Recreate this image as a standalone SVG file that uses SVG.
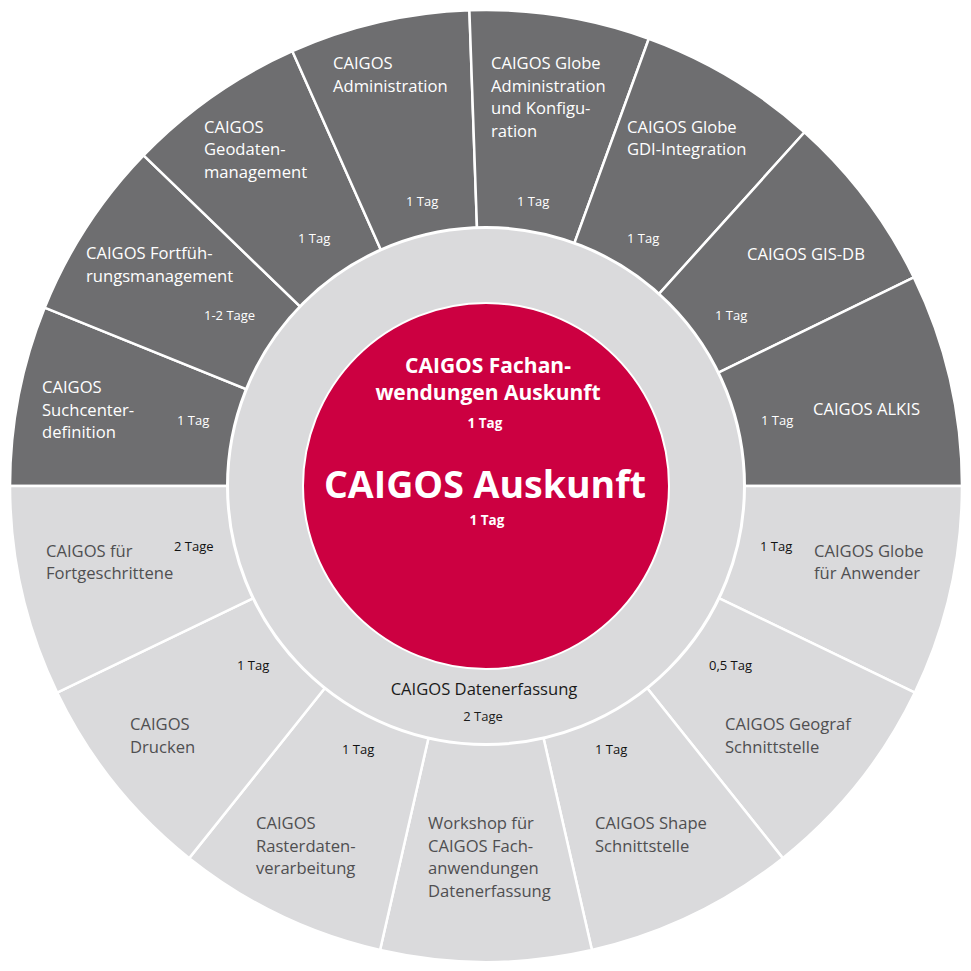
<svg xmlns="http://www.w3.org/2000/svg" width="971" height="971" viewBox="0 0 971 971">
<style>
.dk{fill:#6e6e70;stroke:#fff;stroke-width:2.5;stroke-linejoin:round}
.lt{fill:#dadadc;stroke:#fff;stroke-width:2.5;stroke-linejoin:round}
text{font-family:"Open Sans","Noto Sans",sans-serif}
.wl{fill:#fff;font-size:16.6px}
.gl{fill:#4f4f51;font-size:16.6px}
.wd{fill:#fff;font-size:13px}
.bd{fill:#111;font-size:13px}
.cb{fill:#fff;font-weight:bold;text-anchor:middle}
</style>
<rect width="971" height="971" fill="#fff"/>
<g id="suchcenter">
<path class="dk" d="M486 486 L10 486 A476 476 0 0 1 44.66 307.69 Z"/>
<text class="wl"><tspan x="42" y="393">CAIGOS</tspan><tspan x="42" y="416">Suchcenter-</tspan><tspan x="42" y="438">definition</tspan></text>
<text class="wd" x="177" y="425">1 Tag</text>
</g>
<g id="fortfuehrung">
<path class="dk" d="M486 486 L44.66 307.69 A476 476 0 0 1 143.59 155.34 Z"/>
<text class="wl"><tspan x="86" y="259">CAIGOS Fortfüh-</tspan><tspan x="86" y="282">rungsmanagement</tspan></text>
<text class="wd" x="204" y="320">1-2 Tage</text>
</g>
<g id="geodaten">
<path class="dk" d="M486 486 L143.59 155.34 A476 476 0 0 1 292.39 51.15 Z"/>
<text class="wl"><tspan x="204" y="133">CAIGOS</tspan><tspan x="204" y="155">Geodaten-</tspan><tspan x="204" y="178">management</tspan></text>
<text class="wd" x="298" y="243">1 Tag</text>
</g>
<g id="administration">
<path class="dk" d="M486 486 L292.39 51.15 A476 476 0 0 1 469.39 10.29 Z"/>
<text class="wl"><tspan x="333" y="69">CAIGOS</tspan><tspan x="333" y="92">Administration</tspan></text>
<text class="wd" x="406" y="206">1 Tag</text>
</g>
<g id="globe-admin">
<path class="dk" d="M486 486 L469.39 10.29 A476 476 0 0 1 648.80 38.71 Z"/>
<text class="wl"><tspan x="491" y="69">CAIGOS Globe</tspan><tspan x="491" y="92">Administration</tspan><tspan x="491" y="114">und Konfigu-</tspan><tspan x="491" y="137">ration</tspan></text>
<text class="wd" x="517" y="206">1 Tag</text>
</g>
<g id="globe-gdi">
<path class="dk" d="M486 486 L648.80 38.71 A476 476 0 0 1 804.51 132.27 Z"/>
<text class="wl"><tspan x="627" y="133">CAIGOS Globe</tspan><tspan x="627" y="155">GDI-Integration</tspan></text>
<text class="wd" x="627" y="243">1 Tag</text>
</g>
<g id="gis-db">
<path class="dk" d="M486 486 L804.51 132.27 A476 476 0 0 1 913.82 277.33 Z"/>
<text class="wl" x="747" y="260">CAIGOS GIS-DB</text>
<text class="wd" x="715" y="320">1 Tag</text>
</g>
<g id="alkis">
<path class="dk" d="M486 486 L913.82 277.33 A476 476 0 0 1 962 486 Z"/>
<text class="wl" x="813" y="415">CAIGOS ALKIS</text>
<text class="wd" x="761" y="425">1 Tag</text>
</g>
<g id="globe-anwender">
<path class="lt" d="M486 486 L962 486 A476 476 0 0 1 914.86 692.53 Z"/>
<text class="gl"><tspan x="814" y="557">CAIGOS Globe</tspan><tspan x="814" y="579">für Anwender</tspan></text>
<text class="bd" x="760" y="551">1 Tag</text>
</g>
<g id="geograf">
<path class="lt" d="M486 486 L914.86 692.53 A476 476 0 0 1 782.78 858.15 Z"/>
<text class="gl"><tspan x="725" y="730">CAIGOS Geograf</tspan><tspan x="725" y="753">Schnittstelle</tspan></text>
<text class="bd" x="709" y="670">0,5 Tag</text>
</g>
<g id="shape">
<path class="lt" d="M486 486 L782.78 858.15 A476 476 0 0 1 591.92 950.07 Z"/>
<text class="gl"><tspan x="595" y="829">CAIGOS Shape</tspan><tspan x="595" y="852">Schnittstelle</tspan></text>
<text class="bd" x="595" y="754">1 Tag</text>
</g>
<g id="workshop">
<path class="lt" d="M486 486 L591.92 950.07 A476 476 0 0 1 380.08 950.07 Z"/>
<text class="gl"><tspan x="428" y="829">Workshop für</tspan><tspan x="428" y="852">CAIGOS Fach-</tspan><tspan x="428" y="874">anwendungen</tspan><tspan x="428" y="897">Datenerfassung</tspan></text>
</g>
<g id="rasterdaten">
<path class="lt" d="M486 486 L380.08 950.07 A476 476 0 0 1 189.22 858.15 Z"/>
<text class="gl"><tspan x="256" y="829">CAIGOS</tspan><tspan x="256" y="852">Rasterdaten-</tspan><tspan x="256" y="874">verarbeitung</tspan></text>
<text class="bd" x="342" y="754">1 Tag</text>
</g>
<g id="drucken">
<path class="lt" d="M486 486 L189.22 858.15 A476 476 0 0 1 57.14 692.53 Z"/>
<text class="gl"><tspan x="130" y="730">CAIGOS</tspan><tspan x="130" y="753">Drucken</tspan></text>
<text class="bd" x="237" y="670">1 Tag</text>
</g>
<g id="fortgeschrittene">
<path class="lt" d="M486 486 L57.14 692.53 A476 476 0 0 1 10 486 Z"/>
<text class="gl"><tspan x="46" y="557">CAIGOS für</tspan><tspan x="46" y="579">Fortgeschrittene</tspan></text>
<text class="bd" x="174" y="551">2 Tage</text>
</g>
<g id="datenerfassung">
<circle cx="486" cy="486" r="258.5" fill="#dadadc" stroke="#fff" stroke-width="3"/>
<text x="484" y="695" fill="#1a1a1a" font-size="16.6" text-anchor="middle">CAIGOS Datenerfassung</text>
<text x="483" y="721" fill="#1a1a1a" font-size="13" text-anchor="middle">2 Tage</text>
</g>
<g id="auskunft">
<circle cx="486" cy="486" r="183" fill="#cc0041" stroke="#fff" stroke-width="2"/>
<text class="cb" font-size="21"><tspan x="488" y="373">CAIGOS Fachan-</tspan><tspan x="488" y="400">wendungen Auskunft</tspan></text>
<text class="cb" x="485" y="428" font-size="13.5">1 Tag</text>
<text class="cb" x="485" y="498" font-size="37.5">CAIGOS Auskunft</text>
<text class="cb" x="487" y="525" font-size="13.5">1 Tag</text>
</g>
</svg>
